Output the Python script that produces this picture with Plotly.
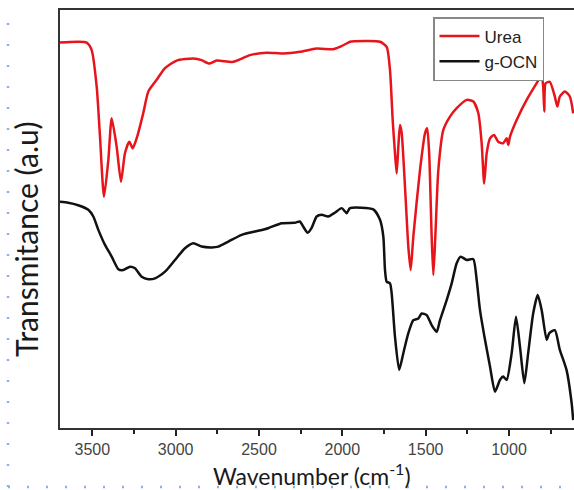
import plotly.graph_objects as go

# Urea spectrum (wavenumber cm^-1, transmittance a.u.)
urea_wn = [3694, 3534, 3504, 3474, 3454, 3430, 3404, 3384, 3354, 3328, 3304, 3278, 3258, 3231,
           3194, 3164, 3114, 3064, 2994, 2894, 2844, 2799, 2754, 2655, 2554, 2454, 2355, 2255,
           2154, 2055, 2014, 1964, 1954, 1774, 1734, 1714, 1698, 1684, 1674, 1664, 1654, 1644,
           1624, 1604, 1590, 1574, 1534, 1504, 1491, 1479, 1464, 1454, 1442, 1424, 1394, 1354,
           1314, 1254, 1214, 1184, 1164, 1149, 1134, 1114, 1090, 1065, 1035, 1014, 1004, 994,
           954, 894, 834, 804, 795, 788, 780, 755, 725, 710, 695, 665, 635, 615]
urea_t = [92.2, 92.2, 90.4, 81.7, 69.7, 55.3, 64.1, 74.1, 67.3, 58.9, 65.8, 68.5, 66.9, 69.7,
          75.4, 80.5, 83.3, 86.1, 87.9, 88.4, 88.0, 87.2, 87.9, 87.6, 89.2, 89.8, 89.6, 90.0,
          90.8, 90.6, 91.2, 92.2, 92.4, 92.4, 91.2, 85.6, 73.7, 65.7, 60.9, 67.3, 72.5, 70.6,
          57.7, 43.4, 37.8, 45.8, 61.7, 70.5, 71.7, 65.7, 45.8, 36.6, 45.8, 61.7, 71.3, 74.5,
          76.5, 78.5, 78.1, 75.3, 68.1, 58.5, 65.7, 69.3, 70.1, 68.5, 68.1, 69.3, 67.7, 69.7,
          73.7, 78.5, 82.5, 84.4, 81.7, 75.7, 82.5, 82.8, 79.3, 76.9, 79.3, 80.5, 79.3, 75.3]

# g-OCN spectrum
gocn_wn = [3694, 3645, 3585, 3524, 3494, 3464, 3424, 3384, 3344, 3314, 3274, 3244, 3204, 3164,
           3124, 3064, 3004, 2944, 2894, 2844, 2784, 2744, 2684, 2604, 2524, 2445, 2364, 2285,
           2255, 2235, 2208, 2185, 2154, 2124, 2085, 2045, 2004, 1974, 1954, 1814, 1774, 1754,
           1744, 1734, 1714, 1704, 1684, 1659, 1634, 1604, 1574, 1544, 1524, 1494, 1464, 1434,
           1414, 1374, 1344, 1314, 1290, 1254, 1214, 1194, 1174, 1144, 1114, 1084, 1054, 1035,
           1014, 984, 958, 934, 908, 885, 855, 828, 804, 774, 758, 725, 695, 655, 624, 615]
gocn_t = [54.1, 53.9, 53.3, 52.2, 50.6, 47.4, 43.8, 41.0, 38.0, 37.8, 38.6, 38.2, 36.2, 35.6,
          35.8, 37.4, 40.2, 43.0, 44.2, 43.4, 43.2, 43.4, 44.6, 46.2, 47.0, 47.8, 49.0, 49.1,
          49.4, 48.2, 46.7, 47.8, 50.6, 51.0, 50.6, 51.5, 52.6, 51.4, 52.6, 52.3, 49.8, 45.8,
          37.8, 35.0, 34.6, 32.2, 21.8, 13.9, 17.9, 22.7, 25.8, 26.2, 27.4, 27.0, 24.6, 23.0,
          25.8, 30.6, 34.6, 39.4, 41.0, 40.2, 40.4, 35.4, 28.2, 21.1, 14.7, 8.7, 11.5, 12.3,
          11.5, 17.9, 26.6, 19.4, 10.7, 17.9, 27.4, 31.8, 28.2, 21.1, 22.7, 23.4, 18.7, 13.9,
          5.9, 1.9]

series_names = ["Urea", "g-OCN"]
tick_vals = [3500, 3000, 2500, 2000, 1500, 1000]
tick_text = ["3500", "3000", "2500", "2000", "1500", "1000"]

fig = go.Figure()
fig.add_trace(go.Scatter(x=urea_wn, y=urea_t, mode="lines", name=series_names[0],
                         line=dict(color="#e8141c", width=2.5, shape="spline", smoothing=0.6)))
fig.add_trace(go.Scatter(x=gocn_wn, y=gocn_t, mode="lines", name=series_names[1],
                         line=dict(color="#111111", width=2.5, shape="spline", smoothing=0.6)))

PW = 514  # plot width in px
PH = 418  # plot height in px


def px(x):
    return (x - 60) / PW


def py(y):
    return (428 - y) / PH


fig.update_layout(
    width=574, height=490,
    margin=dict(l=60, r=0, t=10, b=62),
    paper_bgcolor="white", plot_bgcolor="white",
    showlegend=True,
    legend=dict(x=px(433), y=py(17), xanchor="left", yanchor="top",
                bgcolor="white", bordercolor="#888888", borderwidth=1.5,
                font=dict(family="Liberation Sans, Arial", size=17, color="#222"),
                tracegroupgap=0, itemwidth=40),
    xaxis=dict(range=[3694, 610], tickmode="array", tickvals=tick_vals, ticktext=tick_text,
               ticks="outside", ticklen=6, tickwidth=2, tickcolor="#222",
               minor=dict(dtick=250, tick0=0, ticks="outside", ticklen=4, tickwidth=1.5, tickcolor="#222"),
               showline=True, linecolor="#333", linewidth=2, mirror=True,
               showgrid=False, zeroline=False,
               tickfont=dict(family="Liberation Sans, Arial", size=16, color="#444")),
    yaxis=dict(range=[0, 100], showticklabels=False, ticks="",
               showline=True, linecolor="#333", linewidth=2, mirror=False,
               showgrid=False, zeroline=False),
    annotations=[
        dict(text="Transmitance (a.u)", xref="paper", yref="paper",
             x=px(26), y=py(239), xanchor="center", yanchor="middle",
             textangle=-90, showarrow=False,
             font=dict(family="Lato, Open Sans", size=30, color="#1a1a1a")),
        dict(text="Wavenumber (cm<sup>-1</sup>)", xref="paper", yref="paper",
             x=px(312), y=py(474), xanchor="center", yanchor="middle",
             showarrow=False,
             font=dict(family="Lato, Open Sans", size=23, color="#1a1a1a")),
    ],
    shapes=[
        dict(type="line", xref="paper", yref="paper",
             x0=px(8), x1=px(8), y0=py(487), y1=py(8),
             line=dict(color="#8ab4e0", width=2.5, dash="2px,19px")),
        dict(type="line", xref="paper", yref="paper",
             x0=px(8), x1=px(574), y0=py(487), y1=py(487),
             line=dict(color="#8ab4e0", width=2.5, dash="2px,17px")),
    ],
)

fig.write_html("out.html",
               config={"displayModeBar": False},
               post_script="document.body.style.margin='0';document.body.style.overflow='hidden';")
